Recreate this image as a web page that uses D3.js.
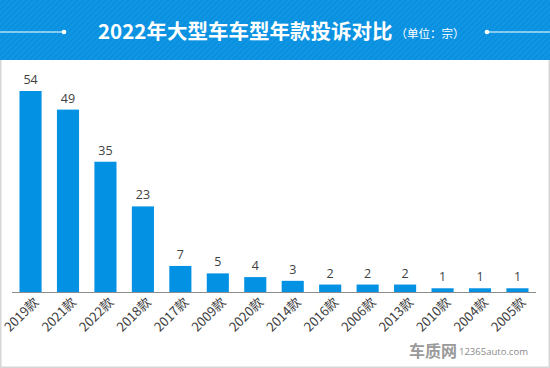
<!DOCTYPE html>
<html><head><meta charset="utf-8">
<script src="https://cdn.jsdelivr.net/npm/d3@7/dist/d3.min.js"></script>
<style>
html,body{margin:0;padding:0;background:#fff;}
svg{display:block;font-family:"Noto Sans CJK SC","Open Sans",sans-serif;}
</style></head>
<body>
<script>
const categories = ["2019款","2021款","2022款","2018款","2017款","2009款","2020款","2014款","2016款","2006款","2013款","2010款","2004款","2005款"];
const values = [54,49,35,23,7,5,4,3,2,2,2,1,1,1];
const title = "2022年大型车车型年款投诉对比";
const unit = "（单位：宗）";

const W = 550, H = 368;
const svg = d3.select("body").append("svg").attr("width", W).attr("height", H);

// frame
svg.append("rect").attr("x",0.75).attr("y",0).attr("width",W-1.5).attr("height",H-0.75)
  .attr("fill","#fff").attr("stroke","#d6d6d6").attr("stroke-width",1.5);

// header with stripes
const defs = svg.append("defs");
const pat = defs.append("pattern").attr("id","stripes").attr("patternUnits","userSpaceOnUse")
  .attr("width",4).attr("height",4).attr("patternTransform","rotate(45)");
pat.append("rect").attr("width",4).attr("height",4).attr("fill","#0790e0");
pat.append("rect").attr("width",2).attr("height",4).attr("fill","#1296e3");
svg.append("rect").attr("x",0).attr("y",0).attr("width",W).attr("height",60).attr("fill","url(#stripes)");

const ty = 32;
svg.append("line").attr("x1",0).attr("x2",64).attr("y1",ty).attr("y2",ty).attr("stroke","#fff").attr("stroke-width",1.2);
svg.append("circle").attr("cx",64).attr("cy",ty).attr("r",2.3).attr("fill","#fff");
svg.append("line").attr("x1",487).attr("x2",W).attr("y1",ty).attr("y2",ty).attr("stroke","#fff").attr("stroke-width",1.2);
svg.append("circle").attr("cx",487).attr("cy",ty).attr("r",2.3).attr("fill","#fff");

const tt = svg.append("text").attr("x",98).attr("y",39).attr("fill","#fff");
tt.append("tspan").attr("font-size",20.5).attr("font-weight","bold").text(title);
tt.append("tspan").attr("font-size",11.5).attr("dx",3).attr("dy",-1).text(unit);

// scales
const x = d3.scaleBand().domain(categories).range([12,536]).paddingInner(0.41).paddingOuter(0.2);
const y = d3.scaleLinear().domain([0,54]).range([292,91]);

svg.append("g").selectAll("rect").data(values).join("rect")
  .attr("x",(d,i)=>x(categories[i])).attr("width",x.bandwidth())
  .attr("y",d=>y(d)).attr("height",d=>y(0)-y(d)).attr("fill","#0391e4");

svg.append("g").selectAll("text").data(values).join("text")
  .attr("x",(d,i)=>x(categories[i])+x.bandwidth()/2).attr("y",d=>y(d)-7)
  .attr("text-anchor","middle").attr("font-size",12.5).attr("fill","#404040")
  .attr("font-family","'Open Sans','Noto Sans',sans-serif")
  .text(d=>d);

// axis
const ax = svg.append("g").attr("transform","translate(0,292)")
  .call(d3.axisBottom(x).tickSize(0).tickPadding(0));
ax.select(".domain").attr("stroke","#8c8c8c").attr("stroke-width",1.2).attr("d","M12,0.5H536");
ax.selectAll(".tick text")
  .attr("font-family","'Noto Sans CJK SC',sans-serif").attr("font-size",13).attr("fill","#404040")
  .attr("text-anchor","end").attr("dy","0").attr("transform","translate(9,11) rotate(-45)");

// watermark
svg.append("text").attr("x",409).attr("y",357).attr("font-size",16).attr("font-weight","bold")
  .attr("fill","#9a9a9a").text("车质网");
svg.append("text").attr("x",459).attr("y",355).attr("font-size",9.5)
  .attr("fill","#8a8a8a").attr("font-family","'Open Sans',sans-serif").text("12365auto.com");
</script>
</body></html>
